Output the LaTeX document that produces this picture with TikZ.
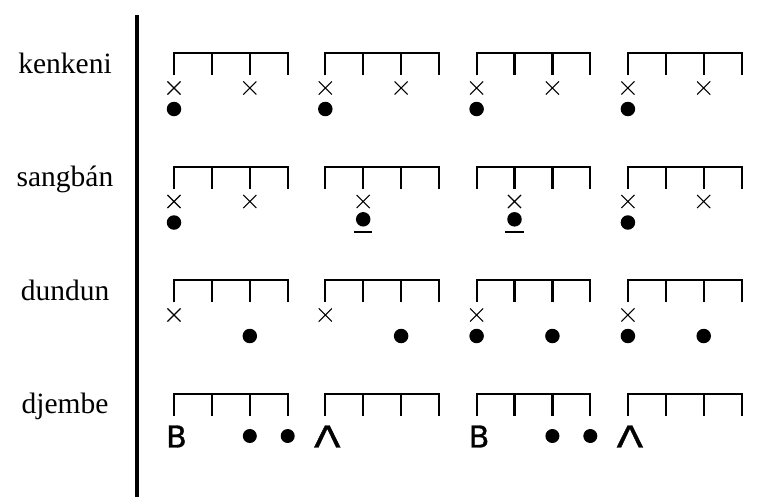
\documentclass[tikz,border=0pt]{standalone}
\usepackage{fontspec}
\setmainfont{Liberation Serif}
\newfontfamily\strokefont[FakeBold=1]{DejaVu Sans}
\newcommand\strk[1]{{\strokefont\fontsize{30}{32}\selectfont #1}}
\usetikzlibrary{shapes.misc}

\begin{document}
\begin{tikzpicture}[x=1pt,y=-1pt,lbl/.style={anchor=base,font=\fontsize{29.5}{32}\selectfont},brk/.style={line width=2.2pt},crs/.style={draw,cross out,minimum size=12pt,inner sep=0pt,line width=1.1pt},hit/.style={circle,fill,minimum size=14.5pt,inner sep=0pt},hitsm/.style={hit,minimum size=14pt},stroke/.style={inner sep=0pt}]
\useasboundingbox (0,0) rectangle (768,501);
\draw[line width=4pt] (137,15) -- (137,497);
\node[lbl] (kenkeni) at (65,73.3) {kenkeni};
\node[lbl] (sangban) at (65,186.8) {sangbán};
\node[lbl] (dundun) at (65,300.3) {dundun};
\node[lbl] (djembe) at (65,413.8) {djembe};
% beat brackets, 4 rows x 4 groups
\foreach \r in {0,...,3}\foreach \g in {0,...,3}{
\pgfmathsetmacro\bx{174+151.3*\g}\pgfmathsetmacro\by{53.3+113.5*\r}
\draw[brk](\bx,\by+22)|-(\bx+113.7,\by)--(\bx+113.7,\by+22);\draw[brk](\bx+37.9,\by)--(\bx+37.9,\by+22)(\bx+75.8,\by)--(\bx+75.8,\by+22);}
% kenkeni
\foreach \g in {0,...,3}{\pgfmathsetmacro\bx{174+151.3*\g}
\node[crs] (kx\g a) at (\bx,88) {};\node[crs] (kx\g c) at (\bx+75.8,88) {};\node[hit] (kd\g) at (\bx,109) {};}
% sangban
\foreach \g in {0,3}{\pgfmathsetmacro\bx{174+151.3*\g}
\node[crs] (sx\g a) at (\bx,201.5) {};\node[crs] (sx\g c) at (\bx+75.8,201.5) {};\node[hit] (sd\g) at (\bx,222.5) {};}
\foreach \g in {1,2}{\pgfmathsetmacro\bx{174+151.3*\g}
\node[crs] (sx\g b) at (\bx+37.9,201.5) {};\node[hit] (sd\g) at (\bx+37.9,219.3) {};
\draw[line width=1.3pt]([xshift=-9.2pt,yshift=-5.2pt]sd\g.south)--([xshift=9.2pt,yshift=-5.2pt]sd\g.south);}
% dundun
\foreach \g in {0,...,3}{\pgfmathsetmacro\bx{174+151.3*\g}
\node[crs] (dx\g) at (\bx,315) {};\node[hit] (dd\g c) at (\bx+75.8,336) {};}
\foreach \g in {2,3}{\pgfmathsetmacro\bx{174+151.3*\g}\node[hit] (dd\g a) at (\bx,336) {};}
% djembe
\foreach \g in {0,2}{\pgfmathsetmacro\bx{174+151.3*\g}
\node[stroke] (jb\g) at (\bx+2.5,436.5) {\strk{B}};\node[hitsm] (jd\g c) at (\bx+75.8,436) {};\node[hitsm] (jd\g d) at (\bx+113.7,436) {};}
\foreach \g in {1,3}{\pgfmathsetmacro\bx{174+151.3*\g}\node[stroke] (jf\g) at (\bx+2,436.5) {\scalebox{1.3}[1]{\strk{Λ}}};}
\end{tikzpicture}
\end{document}
